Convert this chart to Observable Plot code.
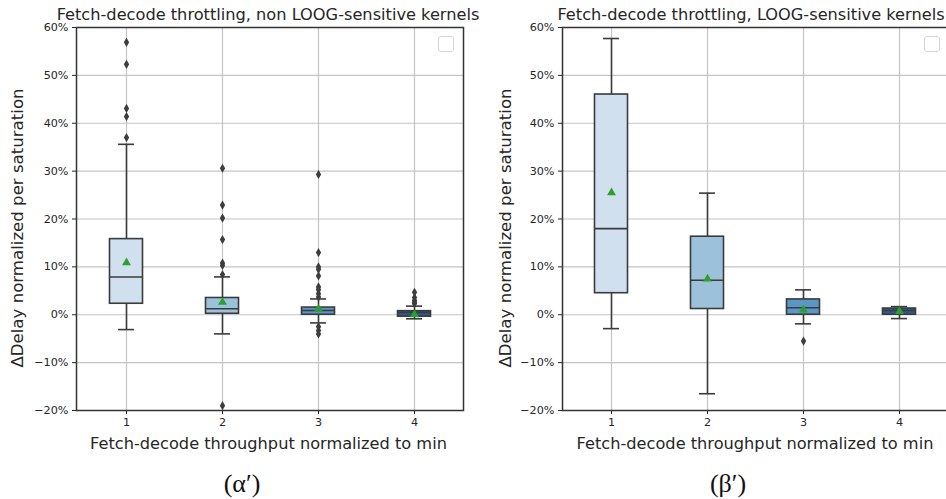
<!DOCTYPE html>
<html>
<head>
<meta charset="utf-8">
<script src="https://cdn.jsdelivr.net/npm/d3@7"></script>
<script src="https://cdn.jsdelivr.net/npm/@observablehq/plot@0.6"></script>
<style>
  html, body { margin: 0; padding: 0; background: #fff; }
  #root { position: relative; width: 946px; height: 499px; overflow: hidden; background: #fff; font-family: "DejaVu Sans", sans-serif; color: #262626; }
  .panel { position: absolute; top: 0; }
  .title { position: absolute; font-size: 16.2px; white-space: nowrap; transform: translate(-50%, -50%); }
  .xlabel { position: absolute; font-size: 16.2px; white-space: nowrap; transform: translate(-50%, -50%); }
  .ylabel { position: absolute; font-size: 16.6px; white-space: nowrap; transform: translate(-50%, -50%) rotate(-90deg); }
  .caption { position: absolute; font-family: "Liberation Serif", "DejaVu Serif", serif; font-size: 26px; white-space: nowrap; transform: translate(-50%, -50%); color: #111; }
  .legend { position: absolute; width: 14px; height: 14px; border: 1px solid #d6d6d6; border-radius: 3px; background: #fff; }
</style>
</head>
<body>
<div id="root"></div>
<script>
// ---------------- data ----------------
const categories = ["1", "2", "3", "4"];
const yTicks = [-0.2, -0.1, 0, 0.1, 0.2, 0.3, 0.4, 0.5, 0.6];
const boxColors = ["#d1e0ee", "#9bc2da", "#5a97c4", "#2b5c8e"];

// (α′) non LOOG-sensitive kernels
const nonLow    = [-0.031, -0.040, -0.017, -0.0085];
const nonQ1     = [0.023, 0.002, 0.000, -0.004];
const nonMedian = [0.079, 0.0125, 0.009, 0.005];
const nonQ3     = [0.158, 0.035, 0.015, 0.0075];
const nonHigh   = [0.356, 0.079, 0.033, 0.018];
const nonMean   = [0.109, 0.026, 0.0125, 0.000];
const nonOutliers = [
  [0.569, 0.523, 0.431, 0.414, 0.370],
  [0.306, 0.229, 0.202, 0.157, 0.108, 0.103, 0.084, -0.190],
  [0.293, 0.130, 0.100, 0.095, 0.081, 0.058, 0.052, 0.044, 0.037, -0.025, -0.033, -0.040],
  [0.047, 0.036, 0.030, 0.026, 0.023]
];

// (β′) LOOG-sensitive kernels
const loogLow    = [-0.029, -0.165, -0.019, -0.008];
const loogQ1     = [0.045, 0.012, 0.000, 0.000];
const loogMedian = [0.180, 0.072, 0.0145, 0.009];
const loogQ3     = [0.460, 0.163, 0.032, 0.013];
const loogHigh   = [0.577, 0.254, 0.052, 0.017];
const loogMean   = [0.255, 0.075, 0.010, 0.007];
const loogOutliers = [[], [], [-0.055], []];

const titles = ["Fetch-decode throttling, non LOOG-sensitive kernels", "Fetch-decode throttling, LOOG-sensitive kernels"];
const xLabel = "Fetch-decode throughput normalized to min";
const yLabel = "ΔDelay normalized per saturation";
const captions = ["(α′)", "(β′)"];

// ---------------- build ----------------
function statsTable(low, q1, med, q3, high, mean) {
  return categories.map((c, i) => ({cat: c, lo: low[i], q1: q1[i], med: med[i], q3: q3[i], hi: high[i], mean: mean[i]}));
}
function outlierTable(out) {
  return out.flatMap((arr, i) => arr.map(v => ({cat: categories[i], v})));
}

const edge = "#3b3b3b";
const BOX_INSET = 31.5;
const CAP_INSET = 40;

function panel({width, marginLeft, marginRight, stats, outliers}) {
  return Plot.plot({
    width,
    height: 460,
    marginTop: 27,
    marginBottom: 50,
    marginLeft,
    marginRight,
    style: {overflow: "visible", fontFamily: "DejaVu Sans, sans-serif", color: "#262626", background: "transparent"},
    x: {type: "band", domain: categories, padding: 0},
    y: {domain: [-0.2, 0.6]},
    color: {type: "ordinal", domain: categories, range: boxColors},
    marks: [
      Plot.gridX({stroke: "#c4c4c4", strokeOpacity: 1, strokeWidth: 1.2}),
      Plot.gridY(yTicks, {stroke: "#c4c4c4", strokeOpacity: 1, strokeWidth: 1.2}),
      Plot.axisY(yTicks, {tickFormat: d3.format(".0%"), tickSize: 4, tickPadding: 4, fontSize: 11.2, label: null}),
      Plot.axisX({tickSize: 4, tickPadding: 4, fontSize: 11.2, label: null}),
      Plot.ruleX(stats, {x: "cat", y1: "lo", y2: "q1", stroke: edge, strokeWidth: 1.6}),
      Plot.ruleX(stats, {x: "cat", y1: "q3", y2: "hi", stroke: edge, strokeWidth: 1.6}),
      Plot.barY(stats, {x: "cat", y1: "q1", y2: "q3", fill: "cat", stroke: edge, strokeWidth: 1.6, insetLeft: BOX_INSET, insetRight: BOX_INSET}),
      Plot.tickY(stats, {x: "cat", y: "med", stroke: edge, strokeWidth: 1.6, insetLeft: BOX_INSET, insetRight: BOX_INSET}),
      Plot.tickY(stats, {x: "cat", y: "lo", stroke: edge, strokeWidth: 1.6, insetLeft: CAP_INSET, insetRight: CAP_INSET}),
      Plot.tickY(stats, {x: "cat", y: "hi", stroke: edge, strokeWidth: 1.6, insetLeft: CAP_INSET, insetRight: CAP_INSET}),
      Plot.dot(outliers, {x: "cat", y: "v", symbol: "diamond", r: 2.8, fill: "#3d3d3d", stroke: "none"}),
      Plot.dot(stats, {x: "cat", y: "mean", symbol: "triangle", r: 3.3, fill: "#2ca02c", stroke: "none"}),
      Plot.frame({stroke: "#333333", strokeWidth: 1.5})
    ]
  });
}

const root = document.getElementById("root");

const left = panel({
  width: 473, marginLeft: 76, marginRight: 10,
  stats: statsTable(nonLow, nonQ1, nonMedian, nonQ3, nonHigh, nonMean),
  outliers: outlierTable(nonOutliers)
});
left.classList.add("panel");
left.style.left = "0px";
root.appendChild(left);

const right = panel({
  width: 476, marginLeft: 89, marginRight: 1,
  stats: statsTable(loogLow, loogQ1, loogMedian, loogQ3, loogHigh, loogMean),
  outliers: outlierTable(loogOutliers)
});
right.classList.add("panel");
right.style.left = "473px";
root.appendChild(right);

function addText(cls, text, x, y) {
  const d = document.createElement("div");
  d.className = cls;
  d.textContent = text;
  d.style.left = x + "px";
  d.style.top = y + "px";
  root.appendChild(d);
}
addText("title", titles[0], 268, 14);
addText("title", titles[1], 751, 14);
addText("xlabel", xLabel, 268.5, 443);
addText("xlabel", xLabel, 755, 443);
addText("ylabel", yLabel, 17, 228);
addText("ylabel", yLabel, 505, 228);
addText("caption", captions[0], 242, 484);
addText("caption", captions[1], 728, 484);

for (const lx of [438, 924]) {
  const b = document.createElement("div");
  b.className = "legend";
  b.style.left = lx + "px";
  b.style.top = "36px";
  root.appendChild(b);
}
</script>
</body>
</html>
